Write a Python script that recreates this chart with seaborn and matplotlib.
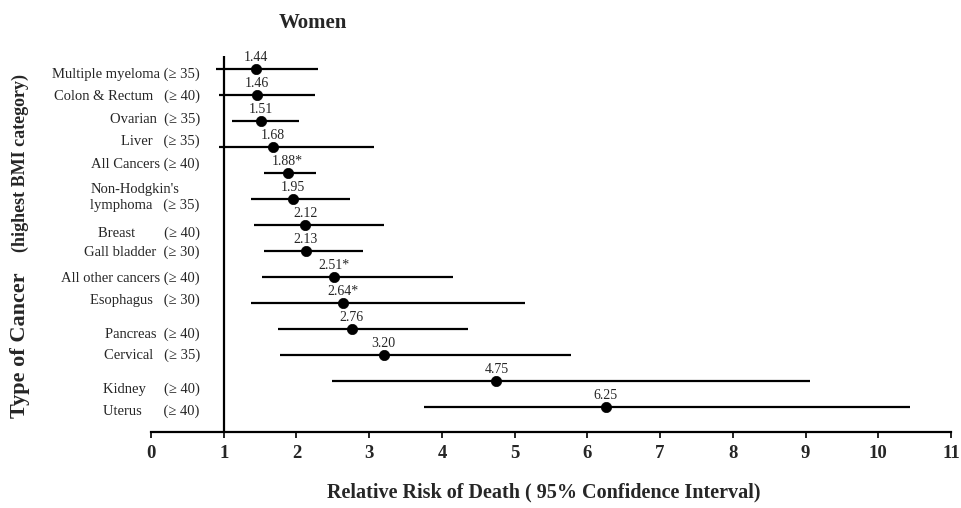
import numpy as np
import pandas as pd
import matplotlib
matplotlib.use('Agg')
import matplotlib.pyplot as plt
import seaborn as sns

# relative risk of death, women, highest BMI category
cancers = ["Multiple myeloma (\u2265 35)", "Colon & Rectum   (\u2265 40)", "Ovarian  (\u2265 35)",
           "Liver   (\u2265 35)", "All Cancers (\u2265 40)", "Non-Hodgkin's\nlymphoma   (\u2265 35)",
           "Breast        (\u2265 40)", "Gall bladder  (\u2265 30)", "All other cancers (\u2265 40)",
           "Esophagus   (\u2265 30)", "Pancreas  (\u2265 40)", "Cervical   (\u2265 35)",
           "Kidney     (\u2265 40)", "Uterus      (\u2265 40)"]
rr = [1.44, 1.46, 1.51, 1.68, 1.88, 1.95, 2.12, 2.13, 2.51, 2.64, 2.76, 3.20, 4.75, 6.25]
lo = [0.90, 0.94, 1.11, 0.93, 1.56, 1.38, 1.41, 1.56, 1.52, 1.37, 1.74, 1.77, 2.49, 3.76]
hi = [2.30, 2.26, 2.03, 3.06, 2.27, 2.74, 3.20, 2.91, 4.15, 5.14, 4.36, 5.78, 9.06, 10.44]
rr_text = ["1.44", "1.46", "1.51", "1.68", "1.88*", "1.95", "2.12", "2.13", "2.51*",
           "2.64*", "2.76", "3.20", "4.75", "6.25"]
xticks = list(range(0, 12))

df = pd.DataFrame({'cancer': cancers, 'rr': rr, 'lo': lo, 'hi': hi, 'label': rr_text})
df['row'] = np.arange(len(df))

# the category labels sit a little off their rows in the original (points, + = down)
label_nudge = [4, 1, -1, -4, -6, -1, 6, 1, 1, -2, 4, 0, 6, 3]

sns.set_theme(style='white')
plt.rcParams['font.family'] = ['Liberation Serif', 'DejaVu Serif']

fig = plt.figure(figsize=(9.62, 5.08), dpi=100)
ax = fig.add_axes([0.157, 0.1496, 0.8316, 0.7402])

ax.hlines(df['row'], df['lo'], df['hi'], color='black', lw=1.6)
sns.scatterplot(data=df, x='rr', y='row', ax=ax, color='black', s=55,
                edgecolor='black', linewidth=0.5, zorder=3, legend=False)
ax.axvline(1, color='black', lw=1.6)

for i, r in df.iterrows():
    ax.annotate(r['label'], (r['rr'], r['row']), xytext=(0, 6), textcoords='offset points',
                ha='center', va='baseline', fontsize=10)
    ax.annotate(r['cancer'], (0.67, r['row']), xytext=(0, -label_nudge[i]),
                textcoords='offset points', ha='right', va='center', fontsize=10.5,
                multialignment='left', linespacing=1.3)

ax.set_xlim(0, 11)
ax.set_ylim(len(df) - 0.04, -0.5)
ax.set_xticks(xticks)
ax.set_xticklabels([str(t) for t in xticks], fontsize=13.5, fontweight='bold')
ax.set_yticks([])
ax.set_xlabel('')
ax.set_ylabel('')
for s in ['left', 'top', 'right']:
    ax.spines[s].set_visible(False)
ax.spines['bottom'].set_color('black')
ax.spines['bottom'].set_linewidth(1.6)
ax.tick_params(axis='x', direction='out', length=4.5, width=1.2, color='black',
               pad=5, bottom=True)

fig.text(0.325, 0.955, 'Women', ha='center', va='center', fontsize=15, fontweight='bold')
fig.text(0.5655, 0.0315, 'Relative Risk of Death ( 95% Confidence Interval)',
         ha='center', va='center', fontsize=14.5, fontweight='bold')
fig.text(0.021, 0.321, 'Type of Cancer', rotation=90, ha='center', va='center',
         fontsize=16, fontweight='bold')
fig.text(0.021, 0.679, '(highest BMI category)', rotation=90, ha='center', va='center',
         fontsize=13, fontweight='bold')

fig.savefig('out.png', dpi=100)
